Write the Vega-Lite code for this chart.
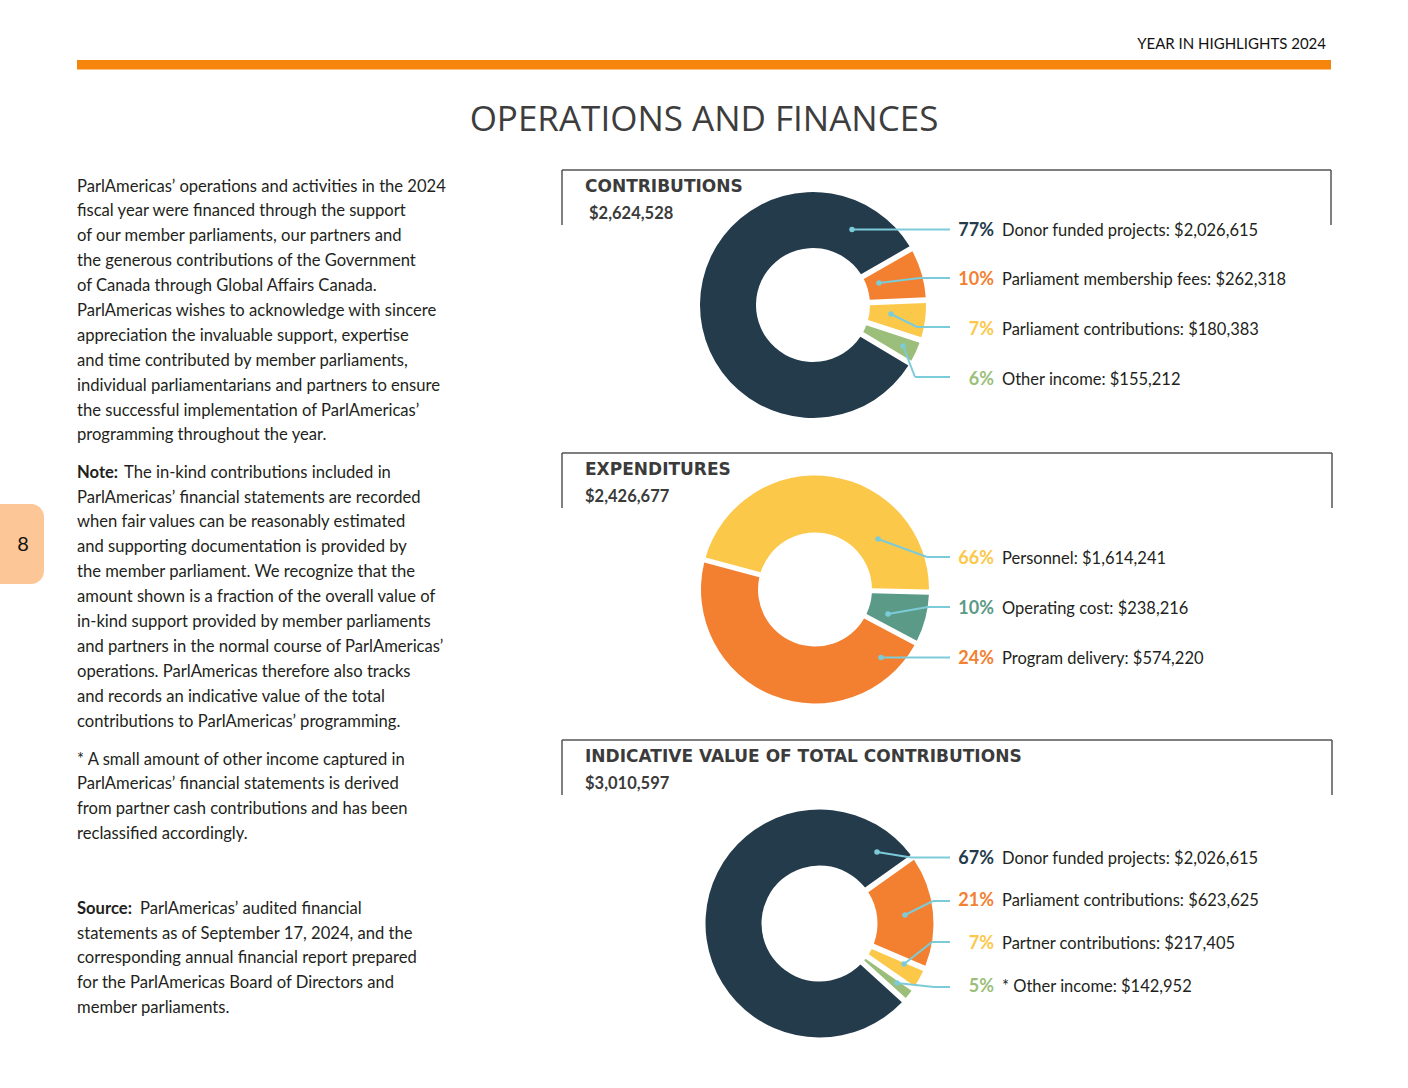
{
  "$schema": "https://vega.github.io/schema/vega-lite/v6.json",
  "width": 1408,
  "height": 1088,
  "autosize": {"type": "fit", "contains": "padding"},
  "padding": 0,
  "background": "white",
  "config": {"view": {"stroke": null}, "text": {"font": "Lato"}},
  "data": {"values": [{}]},
  "resolve": {"scale": {"theta": "independent", "color": "independent", "y": "independent"}},
  "layer": [
    {"mark": {"type": "text", "x": 1326, "y": 44, "align": "right", "baseline": "middle", "fontSize": 15, "color": "#111111", "text": "YEAR IN HIGHLIGHTS 2024"}, "encoding": {}},
    {"mark": {"type": "rect", "x": 77, "x2": 1331, "y": 60, "y2": 69.5, "color": "#f5850c"}, "encoding": {}},
    {"mark": {"type": "text", "x": 704, "y": 120, "align": "center", "baseline": "middle", "font": "Open Sans", "fontSize": 35, "color": "#3d3d3d", "text": "OPERATIONS AND FINANCES"}, "encoding": {}},
    {"mark": {"type": "rect", "x": 0, "x2": 44, "y": 504, "y2": 584, "cornerRadiusTopRight": 13, "cornerRadiusBottomRight": 13, "color": "#fdc697"}, "encoding": {}},
    {"mark": {"type": "text", "x": 23, "y": 545, "align": "center", "baseline": "middle", "fontSize": 20, "color": "#111111", "text": "8"}, "encoding": {}},

    {"mark": {"type": "text", "x": 77, "y": 191.5, "align": "left", "baseline": "alphabetic", "fontSize": 16.6, "lineHeight": 24.9, "color": "#231f20",
      "text": ["ParlAmericas’ operations and activities in the 2024", "fiscal year were financed through the support", "of our member parliaments, our partners and", "the generous contributions of the Government", "of Canada through Global Affairs Canada.", "ParlAmericas wishes to acknowledge with sincere", "appreciation the invaluable support, expertise", "and time contributed by member parliaments,", "individual parliamentarians and partners to ensure", "the successful implementation of ParlAmericas’", "programming throughout the year."]}, "encoding": {}},
    {"mark": {"type": "text", "x": 77, "y": 477.5, "align": "left", "baseline": "alphabetic", "fontSize": 16.6, "fontWeight": "bold", "color": "#231f20", "text": "Note:"}, "encoding": {}},
    {"mark": {"type": "text", "x": 124, "y": 477.5, "align": "left", "baseline": "alphabetic", "fontSize": 16.6, "color": "#231f20", "text": "The in-kind contributions included in"}, "encoding": {}},
    {"mark": {"type": "text", "x": 77, "y": 502.5, "align": "left", "baseline": "alphabetic", "fontSize": 16.6, "lineHeight": 24.9, "color": "#231f20",
      "text": ["ParlAmericas’ financial statements are recorded", "when fair values can be reasonably estimated", "and supporting documentation is provided by", "the member parliament. We recognize that the", "amount shown is a fraction of the overall value of", "in-kind support provided by member parliaments", "and partners in the normal course of ParlAmericas’", "operations. ParlAmericas therefore also tracks", "and records an indicative value of the total", "contributions to ParlAmericas’ programming."]}, "encoding": {}},
    {"mark": {"type": "text", "x": 77, "y": 764.5, "align": "left", "baseline": "alphabetic", "fontSize": 16.6, "lineHeight": 24.9, "color": "#231f20",
      "text": ["* A small amount of other income captured in", "ParlAmericas’ financial statements is derived", "from partner cash contributions and has been", "reclassified accordingly."]}, "encoding": {}},
    {"mark": {"type": "text", "x": 77, "y": 913.5, "align": "left", "baseline": "alphabetic", "fontSize": 16.6, "fontWeight": "bold", "color": "#231f20", "text": "Source:"}, "encoding": {}},
    {"mark": {"type": "text", "x": 140, "y": 913.5, "align": "left", "baseline": "alphabetic", "fontSize": 16.6, "color": "#231f20", "text": "ParlAmericas’ audited financial"}, "encoding": {}},
    {"mark": {"type": "text", "x": 77, "y": 938.5, "align": "left", "baseline": "alphabetic", "fontSize": 16.6, "lineHeight": 24.9, "color": "#231f20",
      "text": ["statements as of September 17, 2024, and the", "corresponding annual financial report prepared", "for the ParlAmericas Board of Directors and", "member parliaments."]}, "encoding": {}},

    {"mark": {"type": "rule", "color": "#555555", "strokeWidth": 1.5}, "encoding": {"x": {"value": 562}, "x2": {"value": 1331}, "y": {"value": 170}, "y2": {"value": 170}}},
    {"mark": {"type": "rule", "color": "#555555", "strokeWidth": 1.5}, "encoding": {"x": {"value": 562}, "x2": {"value": 562}, "y": {"value": 170}, "y2": {"value": 225}}},
    {"mark": {"type": "rule", "color": "#555555", "strokeWidth": 1.5}, "encoding": {"x": {"value": 1331}, "x2": {"value": 1331}, "y": {"value": 170}, "y2": {"value": 225}}},
    {"mark": {"type": "rule", "color": "#555555", "strokeWidth": 1.5}, "encoding": {"x": {"value": 562}, "x2": {"value": 1332}, "y": {"value": 453}, "y2": {"value": 453}}},
    {"mark": {"type": "rule", "color": "#555555", "strokeWidth": 1.5}, "encoding": {"x": {"value": 562}, "x2": {"value": 562}, "y": {"value": 453}, "y2": {"value": 508}}},
    {"mark": {"type": "rule", "color": "#555555", "strokeWidth": 1.5}, "encoding": {"x": {"value": 1332}, "x2": {"value": 1332}, "y": {"value": 453}, "y2": {"value": 508}}},
    {"mark": {"type": "rule", "color": "#555555", "strokeWidth": 1.5}, "encoding": {"x": {"value": 562}, "x2": {"value": 1332}, "y": {"value": 740}, "y2": {"value": 740}}},
    {"mark": {"type": "rule", "color": "#555555", "strokeWidth": 1.5}, "encoding": {"x": {"value": 562}, "x2": {"value": 562}, "y": {"value": 740}, "y2": {"value": 795}}},
    {"mark": {"type": "rule", "color": "#555555", "strokeWidth": 1.5}, "encoding": {"x": {"value": 1332}, "x2": {"value": 1332}, "y": {"value": 740}, "y2": {"value": 795}}},

    {"mark": {"type": "text", "x": 585, "y": 187, "align": "left", "baseline": "middle", "font": "DejaVu Sans", "fontSize": 17, "fontWeight": "bold", "color": "#3b3b3b", "text": "CONTRIBUTIONS"}, "encoding": {}},
    {"mark": {"type": "text", "x": 589, "y": 214, "align": "left", "baseline": "middle", "fontSize": 16.5, "fontWeight": "bold", "color": "#3b3b3b", "text": "$2,624,528"}, "encoding": {}},
    {"mark": {"type": "text", "x": 585, "y": 470, "align": "left", "baseline": "middle", "font": "DejaVu Sans", "fontSize": 17, "fontWeight": "bold", "color": "#3b3b3b", "text": "EXPENDITURES"}, "encoding": {}},
    {"mark": {"type": "text", "x": 585, "y": 497, "align": "left", "baseline": "middle", "fontSize": 16.5, "fontWeight": "bold", "color": "#3b3b3b", "text": "$2,426,677"}, "encoding": {}},
    {"mark": {"type": "text", "x": 585, "y": 757, "align": "left", "baseline": "middle", "font": "DejaVu Sans", "fontSize": 17, "fontWeight": "bold", "color": "#3b3b3b", "text": "INDICATIVE VALUE OF TOTAL CONTRIBUTIONS"}, "encoding": {}},
    {"mark": {"type": "text", "x": 585, "y": 784, "align": "left", "baseline": "middle", "fontSize": 16.5, "fontWeight": "bold", "color": "#3b3b3b", "text": "$3,010,597"}, "encoding": {}},

    {
      "data": {"values": [
        {"i": 1, "label": "Donor funded projects", "pct": 0.77, "desc": "Donor funded projects: $2,026,615", "amount": 2026615, "arc_share": 83.1},
        {"i": 2, "label": "Parliament membership fees", "pct": 0.10, "desc": "Parliament membership fees: $262,318", "amount": 262318, "arc_share": 7.6},
        {"i": 3, "label": "Parliament contributions", "pct": 0.07, "desc": "Parliament contributions: $180,383", "amount": 180383, "arc_share": 5.7},
        {"i": 4, "label": "Other income", "pct": 0.06, "desc": "Other income: $155,212", "amount": 155212, "arc_share": 3.6}
      ]},
      "encoding": {"color": {"field": "label", "type": "nominal", "legend": null, "scale": {"domain": ["Donor funded projects", "Parliament membership fees", "Parliament contributions", "Other income"], "range": ["#243b4c", "#f37f30", "#fcc84a", "#9bbf7a"]}}},
      "layer": [
        {"mark": {"type": "arc", "x": 813, "y": 305, "radius": 113, "radius2": 57, "padAngle": 0.044},
         "encoding": {"theta": {"field": "arc_share", "type": "quantitative", "stack": true, "scale": {"range": [2.1118, 8.3950]}}, "order": {"field": "i", "type": "quantitative"}}},
        {"mark": {"type": "text", "x": 994, "dy": 1.5, "align": "right", "baseline": "middle", "fontSize": 18, "fontWeight": "bold"},
         "encoding": {"y": {"field": "i", "type": "ordinal", "axis": null, "scale": {"type": "point", "range": [229, 378], "padding": 0}}, "text": {"field": "pct", "type": "quantitative", "format": ".0%"}}},
        {"mark": {"type": "text", "x": 1002, "dy": 1.5, "align": "left", "baseline": "middle", "fontSize": 16.5},
         "encoding": {"y": {"field": "i", "type": "ordinal", "axis": null, "scale": {"type": "point", "range": [229, 378], "padding": 0}}, "text": {"field": "desc", "type": "nominal"}, "color": {"value": "#231f20"}}}
      ]
    },
    {
      "data": {"values": [
        {"i": 1, "label": "Personnel", "pct": 0.66, "desc": "Personnel: $1,614,241", "amount": 1614241, "arc_share": 46.2},
        {"i": 2, "label": "Operating cost", "pct": 0.10, "desc": "Operating cost: $238,216", "amount": 238216, "arc_share": 7.4},
        {"i": 3, "label": "Program delivery", "pct": 0.24, "desc": "Program delivery: $574,220", "amount": 574220, "arc_share": 46.4}
      ]},
      "encoding": {"color": {"field": "label", "type": "nominal", "legend": null, "scale": {"domain": ["Personnel", "Operating cost", "Program delivery"], "range": ["#fcc84a", "#5b9a86", "#f37f30"]}}},
      "layer": [
        {"mark": {"type": "arc", "x": 815, "y": 589.5, "radius": 114, "radius2": 57, "padAngle": 0.04},
         "encoding": {"theta": {"field": "arc_share", "type": "quantitative", "stack": true, "scale": {"range": [4.9742, 11.2574]}}, "order": {"field": "i", "type": "quantitative"}}},
        {"mark": {"type": "text", "x": 994, "dy": 1.5, "align": "right", "baseline": "middle", "fontSize": 18, "fontWeight": "bold"},
         "encoding": {"y": {"field": "i", "type": "ordinal", "axis": null, "scale": {"type": "point", "range": [557, 657], "padding": 0}}, "text": {"field": "pct", "type": "quantitative", "format": ".0%"}}},
        {"mark": {"type": "text", "x": 1002, "dy": 1.5, "align": "left", "baseline": "middle", "fontSize": 16.5},
         "encoding": {"y": {"field": "i", "type": "ordinal", "axis": null, "scale": {"type": "point", "range": [557, 657], "padding": 0}}, "text": {"field": "desc", "type": "nominal"}, "color": {"value": "#231f20"}}}
      ]
    },
    {
      "data": {"values": [
        {"i": 1, "label": "Donor funded projects", "pct": 0.67, "desc": "Donor funded projects: $2,026,615", "amount": 2026615, "arc_share": 78.4},
        {"i": 2, "label": "Parliament contributions", "pct": 0.21, "desc": "Parliament contributions: $623,625", "amount": 623625, "arc_share": 16.3},
        {"i": 3, "label": "Partner contributions", "pct": 0.07, "desc": "Partner contributions: $217,405", "amount": 217405, "arc_share": 3.2},
        {"i": 4, "label": "Other income", "pct": 0.05, "desc": "* Other income: $142,952", "amount": 142952, "arc_share": 2.1}
      ]},
      "encoding": {"color": {"field": "label", "type": "nominal", "legend": null, "scale": {"domain": ["Donor funded projects", "Parliament contributions", "Partner contributions", "Other income"], "range": ["#243b4c", "#f37f30", "#fcc84a", "#9bbf7a"]}}},
      "layer": [
        {"mark": {"type": "arc", "x": 819.5, "y": 923.5, "radius": 114, "radius2": 58, "padAngle": 0.044},
         "encoding": {"theta": {"field": "arc_share", "type": "quantitative", "stack": true, "scale": {"range": [2.3091, 8.5923]}}, "order": {"field": "i", "type": "quantitative"}}},
        {"mark": {"type": "text", "x": 994, "dy": 1.5, "align": "right", "baseline": "middle", "fontSize": 18, "fontWeight": "bold"},
         "encoding": {"y": {"field": "i", "type": "ordinal", "axis": null, "scale": {"type": "point", "range": [857, 985], "padding": 0}}, "text": {"field": "pct", "type": "quantitative", "format": ".0%"}}},
        {"mark": {"type": "text", "x": 1002, "dy": 1.5, "align": "left", "baseline": "middle", "fontSize": 16.5},
         "encoding": {"y": {"field": "i", "type": "ordinal", "axis": null, "scale": {"type": "point", "range": [857, 985], "padding": 0}}, "text": {"field": "desc", "type": "nominal"}, "color": {"value": "#231f20"}}}
      ]
    },

    {"mark": {"type": "rule", "color": "#7ccbd8", "strokeWidth": 2}, "encoding": {"x": {"value": 852}, "x2": {"value": 950}, "y": {"value": 229.5}, "y2": {"value": 229.5}}},
    {"mark": {"type": "rule", "color": "#7ccbd8", "strokeWidth": 2}, "encoding": {"x": {"value": 879}, "x2": {"value": 920}, "y": {"value": 283}, "y2": {"value": 278}}},
    {"mark": {"type": "rule", "color": "#7ccbd8", "strokeWidth": 2}, "encoding": {"x": {"value": 920}, "x2": {"value": 950}, "y": {"value": 278}, "y2": {"value": 278}}},
    {"mark": {"type": "rule", "color": "#7ccbd8", "strokeWidth": 2}, "encoding": {"x": {"value": 891}, "x2": {"value": 917}, "y": {"value": 314}, "y2": {"value": 327}}},
    {"mark": {"type": "rule", "color": "#7ccbd8", "strokeWidth": 2}, "encoding": {"x": {"value": 917}, "x2": {"value": 950}, "y": {"value": 327}, "y2": {"value": 327}}},
    {"mark": {"type": "rule", "color": "#7ccbd8", "strokeWidth": 2}, "encoding": {"x": {"value": 903}, "x2": {"value": 915}, "y": {"value": 346}, "y2": {"value": 377}}},
    {"mark": {"type": "rule", "color": "#7ccbd8", "strokeWidth": 2}, "encoding": {"x": {"value": 915}, "x2": {"value": 950}, "y": {"value": 377}, "y2": {"value": 377}}},
    {"mark": {"type": "rule", "color": "#7ccbd8", "strokeWidth": 2}, "encoding": {"x": {"value": 878}, "x2": {"value": 927}, "y": {"value": 539}, "y2": {"value": 557}}},
    {"mark": {"type": "rule", "color": "#7ccbd8", "strokeWidth": 2}, "encoding": {"x": {"value": 927}, "x2": {"value": 950}, "y": {"value": 557}, "y2": {"value": 557}}},
    {"mark": {"type": "rule", "color": "#7ccbd8", "strokeWidth": 2}, "encoding": {"x": {"value": 888}, "x2": {"value": 928}, "y": {"value": 614}, "y2": {"value": 607}}},
    {"mark": {"type": "rule", "color": "#7ccbd8", "strokeWidth": 2}, "encoding": {"x": {"value": 928}, "x2": {"value": 950}, "y": {"value": 607}, "y2": {"value": 607}}},
    {"mark": {"type": "rule", "color": "#7ccbd8", "strokeWidth": 2}, "encoding": {"x": {"value": 881}, "x2": {"value": 950}, "y": {"value": 657.5}, "y2": {"value": 657.5}}},
    {"mark": {"type": "rule", "color": "#7ccbd8", "strokeWidth": 2}, "encoding": {"x": {"value": 877}, "x2": {"value": 911}, "y": {"value": 852}, "y2": {"value": 857.5}}},
    {"mark": {"type": "rule", "color": "#7ccbd8", "strokeWidth": 2}, "encoding": {"x": {"value": 911}, "x2": {"value": 950}, "y": {"value": 857.5}, "y2": {"value": 857.5}}},
    {"mark": {"type": "rule", "color": "#7ccbd8", "strokeWidth": 2}, "encoding": {"x": {"value": 905}, "x2": {"value": 933}, "y": {"value": 915}, "y2": {"value": 901}}},
    {"mark": {"type": "rule", "color": "#7ccbd8", "strokeWidth": 2}, "encoding": {"x": {"value": 933}, "x2": {"value": 950}, "y": {"value": 901}, "y2": {"value": 901}}},
    {"mark": {"type": "rule", "color": "#7ccbd8", "strokeWidth": 2}, "encoding": {"x": {"value": 904}, "x2": {"value": 932}, "y": {"value": 964}, "y2": {"value": 942}}},
    {"mark": {"type": "rule", "color": "#7ccbd8", "strokeWidth": 2}, "encoding": {"x": {"value": 932}, "x2": {"value": 950}, "y": {"value": 942}, "y2": {"value": 942}}},
    {"mark": {"type": "rule", "color": "#7ccbd8", "strokeWidth": 2}, "encoding": {"x": {"value": 897}, "x2": {"value": 934}, "y": {"value": 983}, "y2": {"value": 987}}},
    {"mark": {"type": "rule", "color": "#7ccbd8", "strokeWidth": 2}, "encoding": {"x": {"value": 934}, "x2": {"value": 950}, "y": {"value": 987}, "y2": {"value": 987}}},

    {"mark": {"type": "circle", "x": 852, "y": 229.5, "size": 30, "opacity": 1, "color": "#7ccbd8"}, "encoding": {}},
    {"mark": {"type": "circle", "x": 879, "y": 283, "size": 30, "opacity": 1, "color": "#7ccbd8"}, "encoding": {}},
    {"mark": {"type": "circle", "x": 891, "y": 314, "size": 30, "opacity": 1, "color": "#7ccbd8"}, "encoding": {}},
    {"mark": {"type": "circle", "x": 903, "y": 346, "size": 30, "opacity": 1, "color": "#7ccbd8"}, "encoding": {}},
    {"mark": {"type": "circle", "x": 878, "y": 539, "size": 30, "opacity": 1, "color": "#7ccbd8"}, "encoding": {}},
    {"mark": {"type": "circle", "x": 888, "y": 614, "size": 30, "opacity": 1, "color": "#7ccbd8"}, "encoding": {}},
    {"mark": {"type": "circle", "x": 881, "y": 657.5, "size": 30, "opacity": 1, "color": "#7ccbd8"}, "encoding": {}},
    {"mark": {"type": "circle", "x": 877, "y": 852, "size": 30, "opacity": 1, "color": "#7ccbd8"}, "encoding": {}},
    {"mark": {"type": "circle", "x": 905, "y": 915, "size": 30, "opacity": 1, "color": "#7ccbd8"}, "encoding": {}},
    {"mark": {"type": "circle", "x": 904, "y": 964, "size": 30, "opacity": 1, "color": "#7ccbd8"}, "encoding": {}},
    {"mark": {"type": "circle", "x": 897, "y": 983, "size": 30, "opacity": 1, "color": "#7ccbd8"}, "encoding": {}}
  ]
}
